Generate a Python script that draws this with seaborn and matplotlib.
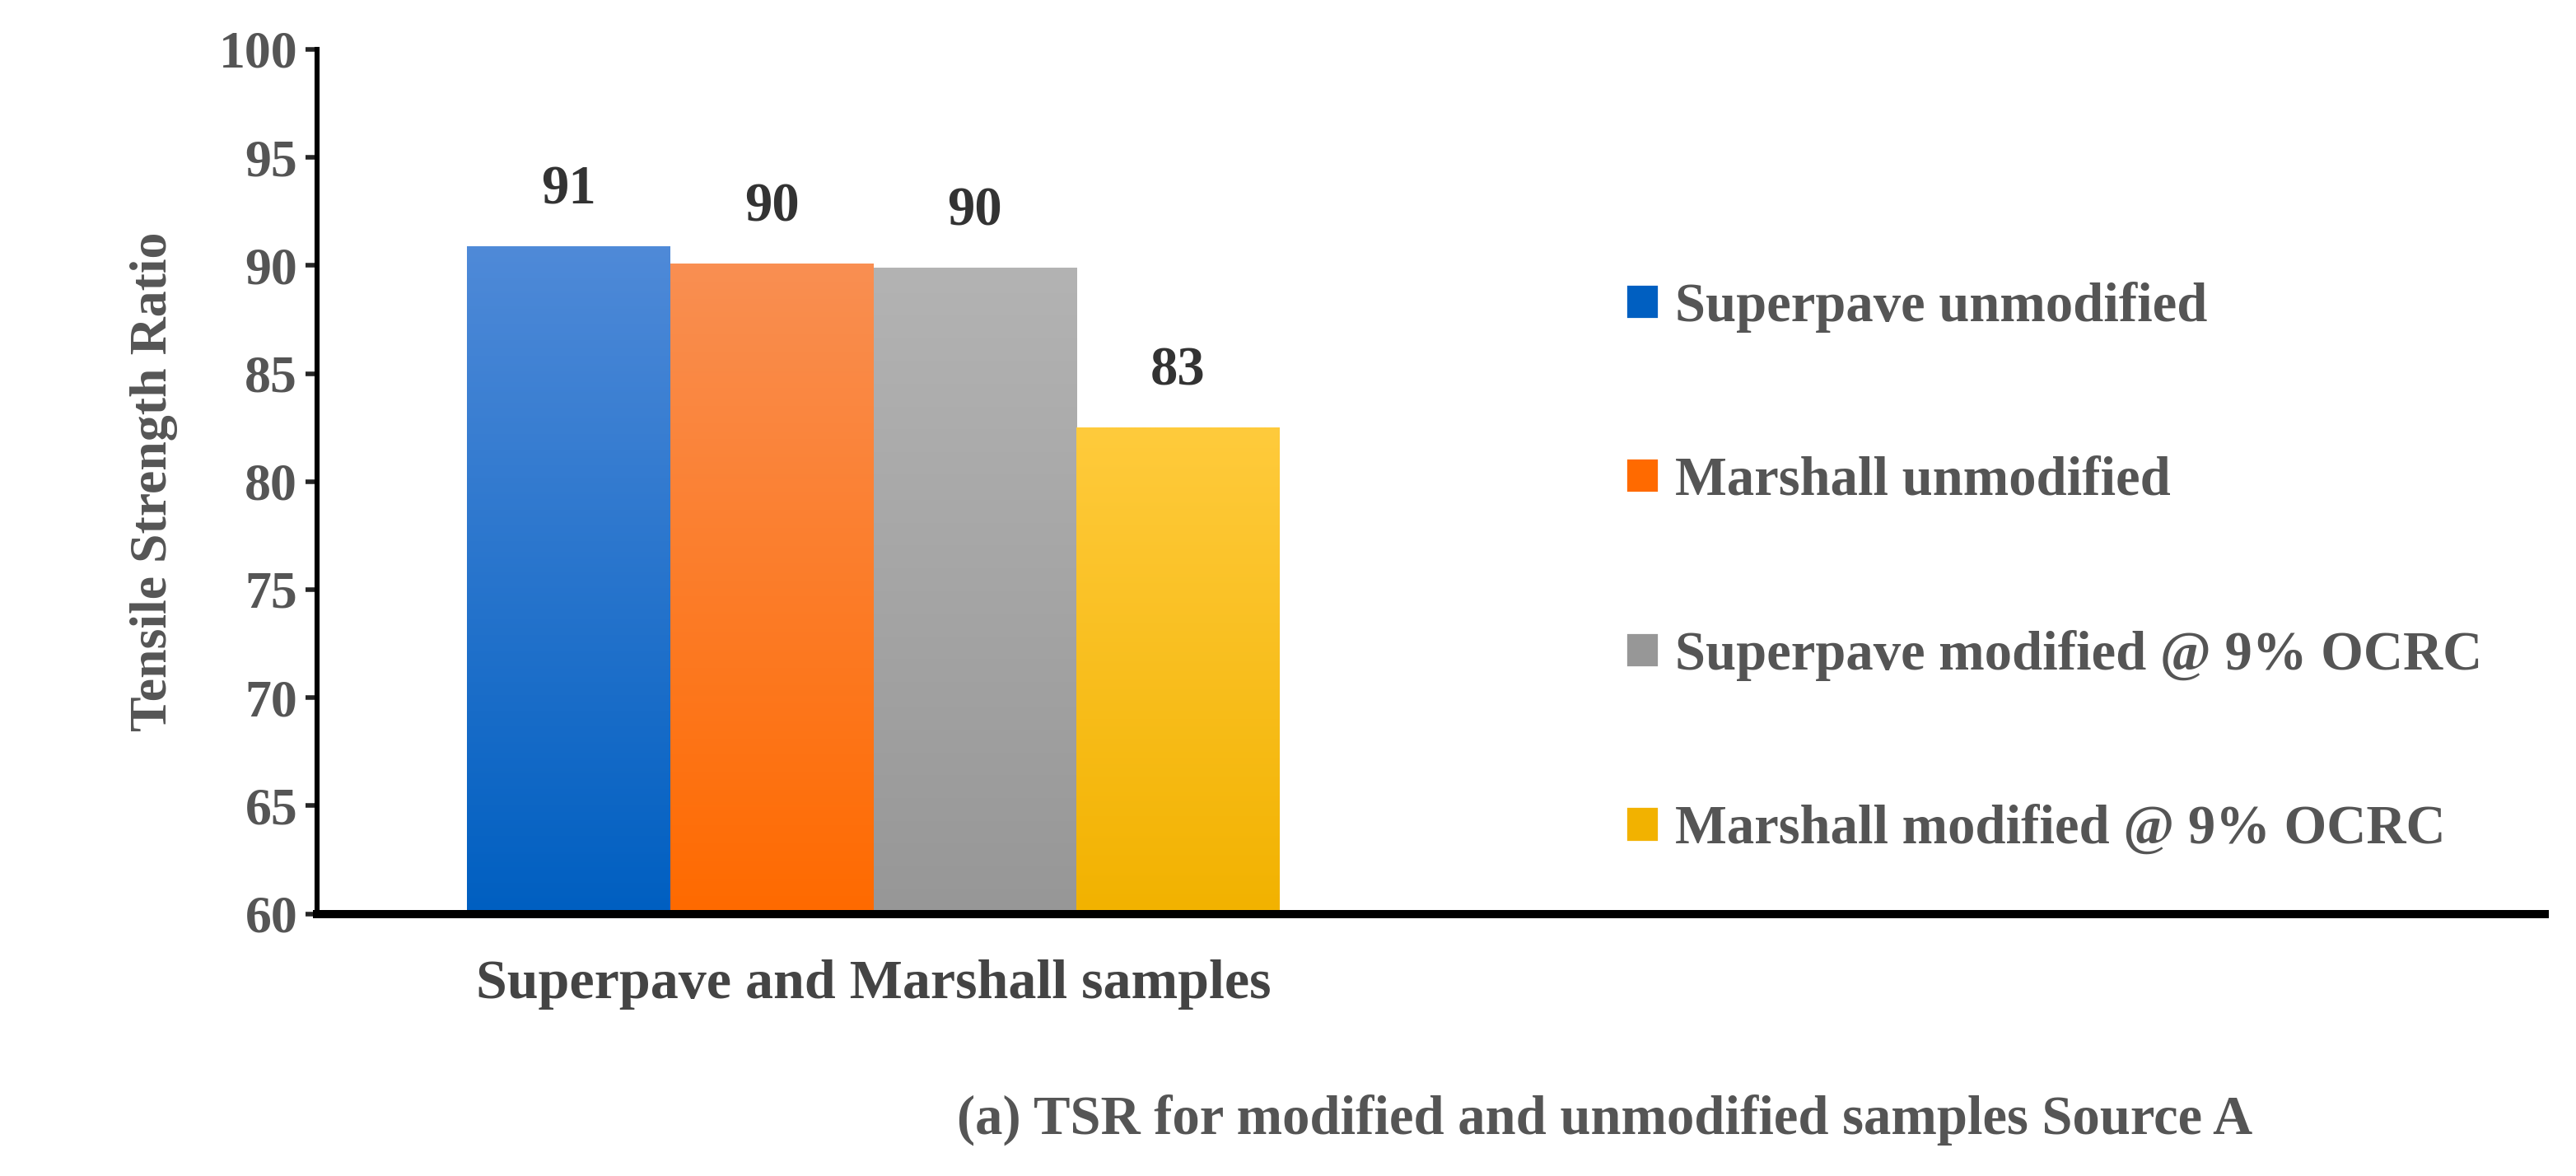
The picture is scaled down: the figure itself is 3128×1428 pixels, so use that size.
import numpy as np
import pandas as pd
import matplotlib.pyplot as plt
import seaborn as sns
from matplotlib.colors import LinearSegmentedColormap
from matplotlib.patches import Patch

# Data
groups = ['Superpave unmodified', 'Marshall unmodified',
          'Superpave modified @ 9% OCRC', 'Marshall modified @ 9% OCRC']
tsr = [90.9, 90.1, 89.9, 82.5]
labels = ['91', '90', '90', '83']
category = 'Superpave and Marshall samples'

top_colors = ['#4f8ad8', '#f98f52', '#b3b3b3', '#ffcb3c']
bottom_colors = ['#005fc1', '#ff6a00', '#979797', '#f2b200']

df = pd.DataFrame({'Category': [category] * 4, 'Group': groups, 'TSR': tsr})

sns.set_style('white')
plt.rcParams['font.family'] = ['Liberation Serif', 'DejaVu Serif']
plt.rcParams['font.weight'] = 'bold'

fig = plt.figure(figsize=(15.64, 7.14), dpi=200)
ax = fig.add_axes([0.123, 0.223, 0.865, 0.735])

sns.barplot(data=df, x='Category', y='TSR', hue='Group', hue_order=groups,
            palette=bottom_colors, width=0.8, ax=ax, legend=False,
            edgecolor='none')

# gradient fill for each bar
for patch, lab, c1, c2 in zip(ax.patches, labels, top_colors, bottom_colors):
    x0, y0 = patch.get_x(), patch.get_y()
    w, h = patch.get_width(), patch.get_height()
    cmap = LinearSegmentedColormap.from_list('g', [c2, c1])
    grad = np.linspace(0, 1, 256).reshape(-1, 1)
    im = ax.imshow(grad, cmap=cmap, origin='lower', aspect='auto',
                   extent=[x0, x0 + w, 60, y0 + h], zorder=patch.get_zorder())
    im.set_clip_path(patch)
    ax.text(x0 + w / 2, y0 + h + 2.6, lab, ha='center', va='center',
            fontsize=24, fontweight='bold', color='#333333')
ax.set_xlim(-0.548, 1.646)
ax.set_ylim(60, 100)

ax.set_yticks(range(60, 101, 5))
ax.tick_params(axis='y', labelsize=23, labelcolor='#555555', length=5,
               width=2, direction='out', left=True)
ax.tick_params(axis='x', labelsize=24.5, labelcolor='#444444', length=0, pad=20)
for t in ax.get_xticklabels() + ax.get_yticklabels():
    t.set_fontweight('bold')

ax.set_xlabel('')
ax.set_ylabel('Tensile Strength Ratio', fontsize=23, fontweight='bold',
              color='#555555', labelpad=18)

sns.despine(ax=ax)
ax.spines['left'].set_linewidth(2.2)
ax.spines['bottom'].set_linewidth(3.6)
ax.spines['left'].set_color('black')
ax.spines['bottom'].set_color('black')

handles = [Patch(facecolor=c) for c in bottom_colors]
fig.legend(handles, groups, loc='center left', bbox_to_anchor=(0.612, 0.517),
           frameon=False, handlelength=0.6, handleheight=0.6,
           handletextpad=0.3, labelspacing=2.25,
           prop={'size': 24, 'weight': 'bold'}, labelcolor='#555555')

fig.text(0.623, 0.048, '(a) TSR for modified and unmodified samples Source A',
         ha='center', va='center', fontsize=24, fontweight='bold',
         color='#555555')

plt.savefig('out.png', dpi=200)
plt.close()
